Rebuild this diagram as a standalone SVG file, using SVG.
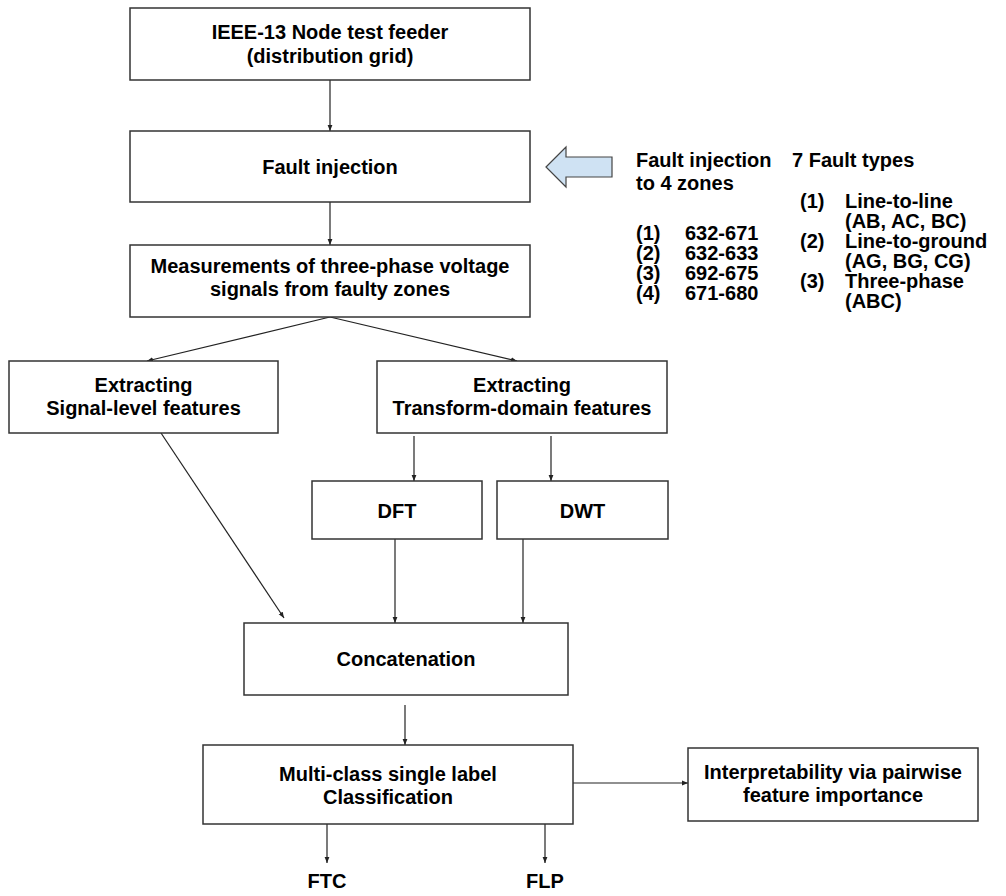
<svg xmlns="http://www.w3.org/2000/svg" width="1006" height="896" viewBox="0 0 1006 896">
<style>
.box{fill:#ffffff;stroke:#333333;stroke-width:1.5}
.t{font-family:"Liberation Sans",Arial,sans-serif;font-weight:bold;font-size:20px;fill:#000;text-anchor:middle}
.r{font-family:"Liberation Sans",Arial,sans-serif;font-weight:bold;font-size:20px;fill:#000}
.c{stroke:#222;stroke-width:1.2;fill:none;marker-end:url(#ah)}
</style>
<defs>
<marker id="ah" viewBox="0 0 10 10" refX="10" refY="5" markerWidth="6" markerHeight="6" orient="auto" markerUnits="userSpaceOnUse">
<path d="M0,1 L10,5 L0,9 z" fill="#222"/>
</marker>
</defs>
<rect width="1006" height="896" fill="#fff"/>
<g id="connectors">
<line class="c" x1="330" y1="80" x2="330" y2="131"/>
<line class="c" x1="330" y1="202" x2="330" y2="245"/>
<line class="c" x1="330" y1="317" x2="147" y2="361"/>
<line class="c" x1="330" y1="317" x2="517" y2="361"/>
<line class="c" x1="414" y1="436" x2="414" y2="481"/>
<line class="c" x1="551" y1="436" x2="551" y2="481"/>
<line class="c" x1="161" y1="433" x2="284" y2="618"/>
<line class="c" x1="395" y1="539" x2="395" y2="623"/>
<line class="c" x1="523" y1="539" x2="523" y2="623"/>
<line class="c" x1="405" y1="705" x2="405" y2="745"/>
<line class="c" x1="573" y1="783" x2="688" y2="783"/>
<line class="c" x1="327" y1="824" x2="327" y2="863"/>
<line class="c" x1="545" y1="824" x2="545" y2="863"/>
</g>
<g id="n-feeder"><rect class="box" x="130" y="8" width="400" height="72"/><text class="t" x="330" y="39">IEEE-13 Node test feeder</text><text class="t" x="330" y="63">(distribution grid)</text></g>
<g id="n-fault"><rect class="box" x="130" y="131" width="400" height="71"/><text class="t" x="330" y="174">Fault injection</text></g>
<g id="n-meas"><rect class="box" x="130" y="245" width="400" height="72"/><text class="t" x="330" y="273">Measurements of three-phase voltage</text><text class="t" x="330" y="296">signals from faulty zones</text></g>
<g id="n-signal"><rect class="box" x="9" y="361" width="269" height="72"/><text class="t" x="143.5" y="392">Extracting</text><text class="t" x="143.5" y="415">Signal-level features</text></g>
<g id="n-transform"><rect class="box" x="377" y="361" width="290" height="72"/><text class="t" x="522" y="392">Extracting</text><text class="t" x="522" y="415">Transform-domain features</text></g>
<g id="n-dft"><rect class="box" x="312" y="481" width="170" height="58"/><text class="t" x="397" y="518">DFT</text></g>
<g id="n-dwt"><rect class="box" x="497" y="481" width="171" height="58"/><text class="t" x="582.5" y="518">DWT</text></g>
<g id="n-concat"><rect class="box" x="244" y="623" width="324" height="72"/><text class="t" x="406" y="666">Concatenation</text></g>
<g id="n-class"><rect class="box" x="203" y="745" width="370" height="79"/><text class="t" x="388" y="781">Multi-class single label</text><text class="t" x="388" y="804">Classification</text></g>
<g id="n-interp"><rect class="box" x="688" y="748" width="290" height="73"/><text class="t" x="833" y="779">Interpretability via pairwise</text><text class="t" x="833" y="802">feature importance</text></g>
<g id="n-ftc"><text class="t" x="327" y="888">FTC</text></g>
<g id="n-flp"><text class="t" x="545" y="888">FLP</text></g>
<g id="n-bluearrow"><polygon points="546,167 566,147 566,157 612,157 612,177 566,177 566,187" fill="#cfe2f3" stroke="#444" stroke-width="1.2"/></g>
<g id="n-zones">
<text class="r" x="636" y="167">Fault injection</text>
<text class="r" x="636" y="190">to 4 zones</text>
<text class="r" x="636" y="240">(1)</text><text class="r" x="685" y="240">632-671</text>
<text class="r" x="636" y="260">(2)</text><text class="r" x="685" y="260">632-633</text>
<text class="r" x="636" y="280">(3)</text><text class="r" x="685" y="280">692-675</text>
<text class="r" x="636" y="300">(4)</text><text class="r" x="685" y="300">671-680</text>
</g>
<g id="n-types">
<text class="r" x="792" y="167">7 Fault types</text>
<text class="r" x="800" y="208">(1)</text><text class="r" x="845" y="208">Line-to-line</text>
<text class="r" x="845" y="228">(AB, AC, BC)</text>
<text class="r" x="800" y="248">(2)</text><text class="r" x="845" y="248">Line-to-ground</text>
<text class="r" x="845" y="268">(AG, BG, CG)</text>
<text class="r" x="800" y="288">(3)</text><text class="r" x="845" y="288">Three-phase</text>
<text class="r" x="845" y="308">(ABC)</text>
</g>
</svg>
